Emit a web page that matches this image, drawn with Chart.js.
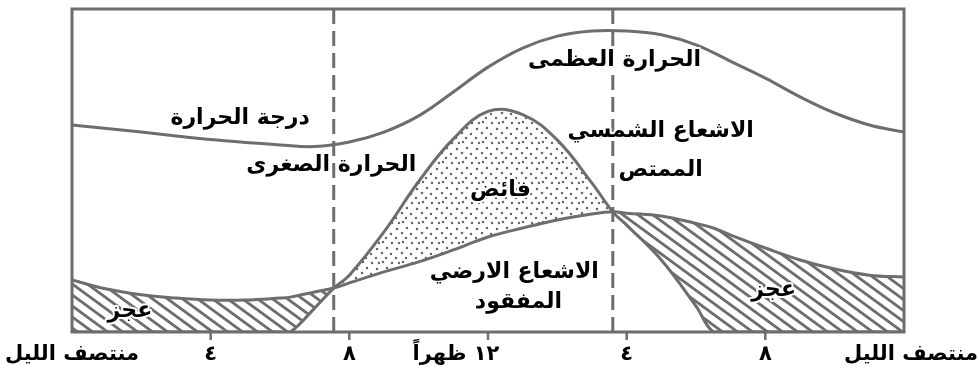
<!DOCTYPE html>
<html lang="ar">
<head>
<meta charset="utf-8">
<title>الاشعاع ودرجة الحرارة خلال اليوم</title>
<script src="https://cdn.jsdelivr.net/npm/chart.js@4.4.1/dist/chart.umd.min.js"></script>
<style>
  html, body { margin: 0; padding: 0; background: #fff; }
  canvas { display: block; }
</style>
</head>
<body>
<canvas id="heatChart" width="979" height="376"></canvas>
<script>
// محور الساعات (0 = منتصف الليل)
const tickHours = [0, 4, 8, 12, 16, 20, 24];
const tickLabels = ["منتصف الليل", "٤", "٨", "١٢ ظهراً", "٤", "٨", "منتصف الليل"];

// منحنى درجة الحرارة
const tempHours = [0, 1, 2, 3, 4, 5, 6, 7, 8, 9, 10, 11, 12, 13, 14, 15, 16, 17, 18, 19, 20, 21, 22, 23, 24];
const tempValues = [64.1, 63.0, 61.9, 60.7, 59.6, 58.7, 57.9, 57.4, 58.8, 61.9, 66.9, 74.3, 82.0, 87.9, 91.6, 93.2, 93.2, 92.0, 88.9, 83.8, 78.6, 72.8, 67.8, 64.1, 61.9];

// الاشعاع الارضي المفقود والاشعاع الشمسي الممتص
const radHours = [0, 1, 2, 3, 4, 5, 6, 6.3, 7, 7.55, 8, 9, 10, 11, 12, 13, 14, 15, 15.6, 16, 17, 18, 18.5, 19, 20, 21, 22, 23, 24];
const earthValues = [16.1, 13.3, 11.5, 10.5, 9.9, 9.9, 10.5, 10.8, 12.4, 13.6, 15.2, 18.6, 21.7, 25.4, 29.4, 32.2, 34.7, 36.5, 37.2, 36.8, 35.9, 33.6, 32.2, 30.0, 26.0, 22.3, 19.5, 17.6, 17.0];
const sunValues = [0, 0, 0, 0, 0, 0, 0, 0, 7.4, 13.6, 17.6, 31.0, 46.6, 59.8, 68.3, 67.3, 59.4, 46.1, 37.2, 33.1, 22.3, 8.0, 0, 0, 0, 0, 0, 0, 0];

// الخطان المتقطعان عند تقاطع المنحنيين
const crossHours = [7.55, 15.6];

// الكتابات داخل الرسم
const noteTexts = ["درجة الحرارة", "الحرارة الصغرى", "الحرارة العظمى", "الاشعاع الشمسي", "الممتص", "فائض", "الاشعاع الارضي", "المفقود", "عجز", "عجز"];
const noteHours = [4.85, 7.48, 15.65, 16.98, 16.98, 12.36, 12.76, 12.88, 1.67, 20.24];
const noteValues = [66.3, 51.7, 84.2, 62.2, 50.2, 44.0, 18.6, 9.3, 6.5, 13.0];

const lineGray = "#6d6d6d";
const noteFont = 'bold 22px "DejaVu Sans", sans-serif';
const tickFont = 'bold 21px "DejaVu Sans", sans-serif';

const toPoints = (hours, values) => hours.map((h, i) => ({ x: h, y: values[i] }));

// نقش التخطيط لمنطقة العجز
function makeHatch() {
  const w = 15, h = 11;
  const c = document.createElement("canvas");
  c.width = w; c.height = h;
  const g = c.getContext("2d");
  g.fillStyle = "#fff";
  g.fillRect(0, 0, w, h);
  g.strokeStyle = lineGray;
  g.lineWidth = 2.8;
  for (let k = -1; k <= 1; k++) {
    g.beginPath();
    g.moveTo(k * w - w, -h);
    g.lineTo(k * w + 2 * w, 2 * h);
    g.stroke();
  }
  return g.createPattern(c, "repeat");
}

// نقش النقاط لمنطقة الفائض
function makeDots() {
  const c = document.createElement("canvas");
  c.width = 20; c.height = 20;
  const g = c.getContext("2d");
  g.fillStyle = "#fff";
  g.fillRect(0, 0, 20, 20);
  g.fillStyle = "#666";
  [[3, 2], [12, 3], [7, 8], [17, 9], [2, 13], [11, 14], [16, 18], [6, 18], [19, 3]].forEach(([px, py]) => {
    g.beginPath();
    g.arc(px, py, 1.25, 0, Math.PI * 2);
    g.fill();
  });
  return g.createPattern(c, "repeat");
}

// الاطار والخطوط المتقطعة والكتابات
const framePlugin = {
  id: "framePlugin",
  beforeDatasetsDraw(chart) {
    const { ctx, chartArea: a, scales: { x } } = chart;
    ctx.save();
    ctx.strokeStyle = lineGray;
    ctx.lineWidth = 3;
    ctx.setLineDash([15, 7]);
    crossHours.forEach(h => {
      const px = x.getPixelForValue(h);
      ctx.beginPath();
      ctx.moveTo(px, a.top);
      ctx.lineTo(px, a.bottom);
      ctx.stroke();
    });
    ctx.restore();
  },
  afterDatasetsDraw(chart) {
    const { ctx, chartArea: a, scales: { x, y } } = chart;
    ctx.save();
    ctx.strokeStyle = lineGray;
    ctx.lineWidth = 3;
    ctx.strokeRect(a.left, a.top, a.right - a.left, a.bottom - a.top);

    // علامات المحور
    ctx.lineWidth = 2.5;
    tickHours.slice(1, -1).forEach(h => {
      const px = x.getPixelForValue(h);
      ctx.beginPath();
      ctx.moveTo(px, a.bottom);
      ctx.lineTo(px, a.bottom + 8);
      ctx.stroke();
    });

    ctx.fillStyle = "#000";
    ctx.textBaseline = "middle";
    ctx.direction = "rtl";
    ctx.textAlign = "center";
    ctx.font = tickFont;
    const tickShift = [0, 0, 0, -32, 0, 0, 7];
    tickHours.forEach((h, i) => {
      ctx.fillText(tickLabels[i], x.getPixelForValue(h) + tickShift[i], a.bottom + 23);
    });

    ctx.font = noteFont;
    ctx.strokeStyle = "#fff";
    ctx.lineWidth = 4;
    ctx.lineJoin = "round";
    noteTexts.forEach((t, i) => {
      const px = x.getPixelForValue(noteHours[i]);
      const py = y.getPixelForValue(noteValues[i]);
      ctx.strokeText(t, px, py);
      ctx.fillText(t, px, py);
    });
    ctx.restore();
  }
};

const ctx = document.getElementById("heatChart").getContext("2d");
const heatChart = new Chart(ctx, {
  type: "line",
  data: {
    datasets: [
      {
        label: "درجة الحرارة",
        data: toPoints(tempHours, tempValues),
        borderColor: lineGray,
        fill: false
      },
      {
        label: "الاشعاع الارضي المفقود",
        data: toPoints(radHours, earthValues),
        borderColor: lineGray,
        fill: false
      },
      {
        label: "الاشعاع الشمسي الممتص",
        data: toPoints(radHours, sunValues),
        borderColor: lineGray,
        fill: { target: 1, above: makeDots(), below: makeHatch() }
      }
    ]
  },
  options: {
    responsive: false,
    animation: false,
    layout: { padding: { left: 72, right: 75, top: 9, bottom: 44 } },
    elements: {
      point: { radius: 0 },
      line: { borderWidth: 3, tension: 0.4 }
    },
    plugins: {
      legend: { display: false },
      tooltip: { enabled: false }
    },
    scales: {
      x: { type: "linear", min: 0, max: 24, display: false },
      y: { min: 0, max: 100, display: false }
    }
  },
  plugins: [framePlugin]
});
</script>
</body>
</html>
